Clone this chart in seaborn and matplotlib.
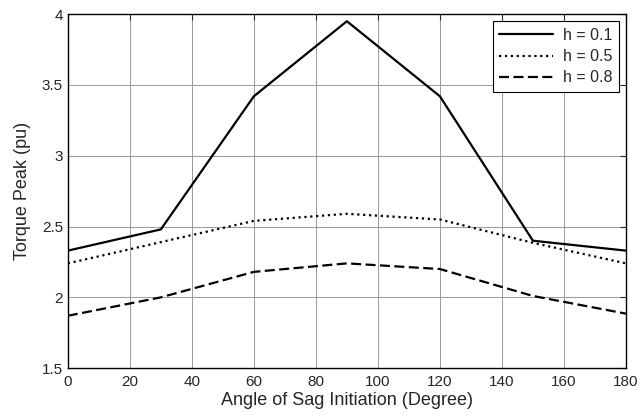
import matplotlib
matplotlib.use("Agg")
import matplotlib.pyplot as plt
import seaborn as sns
import pandas as pd

angles = [0, 30, 60, 90, 120, 150, 180]
h01 = [2.33, 2.48, 3.42, 3.95, 3.42, 2.40, 2.33]
h05 = [2.24, 2.39, 2.54, 2.59, 2.55, 2.385, 2.24]
h08 = [1.87, 2.00, 2.18, 2.24, 2.20, 2.01, 1.885]
labels = ["h = 0.1", "h = 0.5", "h = 0.8"]

sns.set_style("white")
plt.rcParams["font.family"] = ["Liberation Sans", "DejaVu Sans"]

df = pd.concat([
    pd.DataFrame({"angle": angles, "torque": v, "h": lab})
    for v, lab in zip([h01, h05, h08], labels)
])

fig = plt.figure(figsize=(6.4, 4.16), dpi=100)
ax = fig.add_axes([0.106, 0.115, 0.872, 0.851])

styles = {"h = 0.1": "-", "h = 0.5": ":", "h = 0.8": (0, (4.5, 2.0))}
for lab in labels:
    sns.lineplot(data=df[df["h"] == lab], x="angle", y="torque", ax=ax,
                 color="black", linewidth=1.6, linestyle=styles[lab], label=lab)

ax.set_xlim(0, 180)
ax.set_ylim(1.5, 4)
ax.set_xticks(range(0, 181, 20))
ax.set_yticks([1.5, 2, 2.5, 3, 3.5, 4])
ax.set_yticklabels(["1.5", "2", "2.5", "3", "3.5", "4"])
ax.grid(True, color="#999999", linewidth=0.7)
ax.tick_params(direction="in", top=True, right=True, length=4, labelsize=11, width=0.8)
ax.tick_params(axis="x", pad=5)
for s in ax.spines.values():
    s.set_color("black")
    s.set_linewidth(1.0)
ax.set_xlabel("Angle of Sag Initiation (Degree)", fontsize=13, labelpad=2)
ax.set_ylabel("Torque Peak (pu)", fontsize=13, labelpad=8)

leg = ax.legend(loc="upper right", fontsize=11.5, frameon=True, fancybox=False,
                framealpha=1, edgecolor="black", borderaxespad=0.45,
                handlelength=3.4, labelspacing=0.4, borderpad=0.4,
                handletextpad=0.6)
leg.get_frame().set_linewidth(0.8)

fig.savefig("out.png", dpi=100)
